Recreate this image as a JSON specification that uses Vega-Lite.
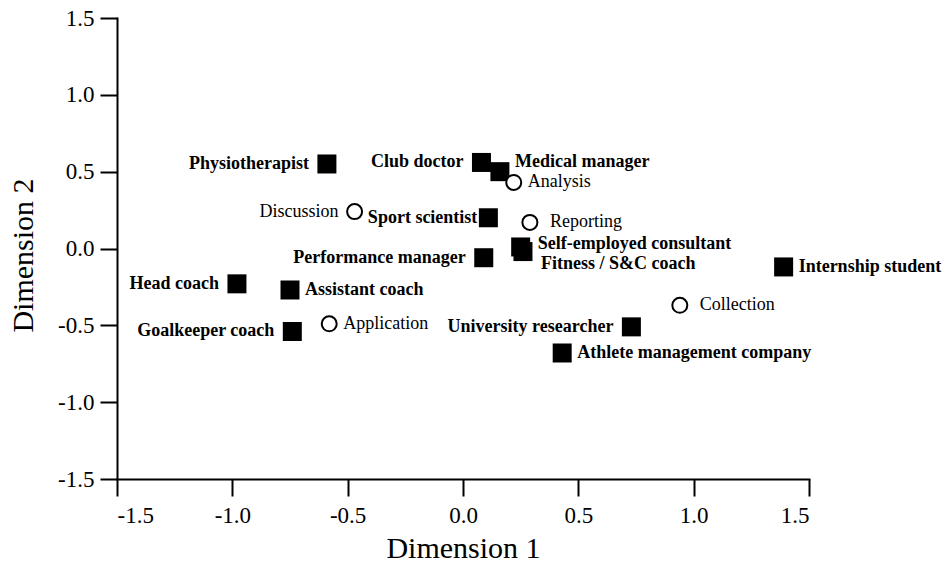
{
  "$schema": "https://vega.github.io/schema/vega-lite/v6.json",
  "width": 692,
  "height": 461,
  "autosize": {"type": "none"},
  "padding": {"left": 117, "top": 18, "right": 141, "bottom": 95},
  "config": {
    "view": {"stroke": null},
    "font": "Liberation Serif",
    "axis": {
      "grid": false,
      "domainColor": "black",
      "domainWidth": 2,
      "domainCap": "square",
      "tickColor": "black",
      "tickWidth": 2,
      "tickSize": 17,
      "labelFont": "Liberation Serif",
      "labelFontSize": 23,
      "labelColor": "black",
      "titleFont": "Liberation Serif",
      "titleFontSize": 30,
      "titleFontWeight": "normal",
      "titleColor": "black"
    }
  },
  "data": {
    "values": [
      {"name": "Physiotherapist", "d1": -0.59, "d2": 0.55, "kind": "role"},
      {"name": "Club doctor", "d1": 0.08, "d2": 0.56, "kind": "role"},
      {"name": "Medical manager", "d1": 0.16, "d2": 0.5, "kind": "role"},
      {"name": "Sport scientist", "d1": 0.11, "d2": 0.2, "kind": "role"},
      {"name": "Self-employed consultant", "d1": 0.25, "d2": 0.01, "kind": "role"},
      {"name": "Fitness / S&C coach", "d1": 0.26, "d2": -0.02, "kind": "role"},
      {"name": "Performance manager", "d1": 0.09, "d2": -0.06, "kind": "role"},
      {"name": "Internship student", "d1": 1.39, "d2": -0.12, "kind": "role"},
      {"name": "Head coach", "d1": -0.98, "d2": -0.23, "kind": "role"},
      {"name": "Assistant coach", "d1": -0.75, "d2": -0.27, "kind": "role"},
      {"name": "Goalkeeper coach", "d1": -0.74, "d2": -0.54, "kind": "role"},
      {"name": "University researcher", "d1": 0.73, "d2": -0.51, "kind": "role"},
      {"name": "Athlete management company", "d1": 0.43, "d2": -0.68, "kind": "role"},
      {"name": "Analysis", "d1": 0.22, "d2": 0.43, "kind": "stage"},
      {"name": "Discussion", "d1": -0.47, "d2": 0.24, "kind": "stage"},
      {"name": "Reporting", "d1": 0.29, "d2": 0.17, "kind": "stage"},
      {"name": "Application", "d1": -0.58, "d2": -0.49, "kind": "stage"},
      {"name": "Collection", "d1": 0.94, "d2": -0.37, "kind": "stage"}
    ]
  },
  "encoding": {
    "x": {
      "field": "d1",
      "type": "quantitative",
      "scale": {"domain": [-1.5, 1.5], "nice": false, "zero": false},
      "axis": {
        "values": [-1.5, -1, -0.5, 0, 0.5, 1, 1.5],
        "labelExpr": "replace(format(datum.value, '.1f'), '\u2212', '-')",
        "labelPadding": 8,
        "title": "Dimension 1",
        "titleY": 69,
        "titleBaseline": "middle"
      }
    },
    "y": {
      "field": "d2",
      "type": "quantitative",
      "scale": {"domain": [-1.5, 1.5], "nice": false, "zero": false},
      "axis": {
        "values": [-1.5, -1, -0.5, 0, 0.5, 1, 1.5],
        "labelExpr": "replace(format(datum.value, '.1f'), '\u2212', '-')",
        "labelPadding": 6,
        "title": "Dimension 2",
        "titleX": -94,
        "titleY": 237,
        "titleAngle": -90,
        "titleAlign": "center",
        "titleBaseline": "middle"
      }
    }
  },
  "layer": [
    {
      "transform": [{"filter": "datum.kind === 'role'"}],
      "mark": {"type": "point", "shape": "square", "filled": true, "color": "black", "size": 361, "opacity": 1}
    },
    {
      "transform": [{"filter": "datum.kind === 'stage'"}],
      "mark": {"type": "point", "shape": "circle", "filled": true, "fill": "white", "stroke": "black", "strokeWidth": 2, "size": 225, "opacity": 1}
    },
    {
      "transform": [{"filter": {"field": "name", "oneOf": ["Physiotherapist", "Club doctor", "Performance manager", "Head coach", "Goalkeeper coach", "University researcher"]}}],
      "mark": {"type": "text", "align": "right", "baseline": "middle", "dx": -18, "fontSize": 18, "fontWeight": "bold", "color": "black"},
      "encoding": {"text": {"field": "name"}}
    },
    {
      "transform": [{"filter": {"field": "name", "oneOf": ["Sport scientist"]}}],
      "mark": {"type": "text", "align": "right", "baseline": "middle", "dx": -11, "fontSize": 18, "fontWeight": "bold", "color": "black"},
      "encoding": {"text": {"field": "name"}}
    },
    {
      "transform": [{"filter": {"field": "name", "oneOf": ["Assistant coach", "Athlete management company", "Internship student"]}}],
      "mark": {"type": "text", "align": "left", "baseline": "middle", "dx": 15, "fontSize": 18, "fontWeight": "bold", "color": "black"},
      "encoding": {"text": {"field": "name"}}
    },
    {
      "transform": [{"filter": {"field": "name", "oneOf": ["Medical manager"]}}],
      "mark": {"type": "text", "align": "left", "baseline": "middle", "dx": 15, "dy": -10, "fontSize": 18, "fontWeight": "bold", "color": "black"},
      "encoding": {"text": {"field": "name"}}
    },
    {
      "transform": [{"filter": {"field": "name", "oneOf": ["Self-employed consultant"]}}],
      "mark": {"type": "text", "align": "left", "baseline": "middle", "dx": 17, "dy": -3, "fontSize": 18, "fontWeight": "bold", "color": "black"},
      "encoding": {"text": {"field": "name"}}
    },
    {
      "transform": [{"filter": {"field": "name", "oneOf": ["Fitness / S&C coach"]}}],
      "mark": {"type": "text", "align": "left", "baseline": "middle", "dx": 18, "dy": 12, "fontSize": 18, "fontWeight": "bold", "color": "black"},
      "encoding": {"text": {"field": "name"}}
    },
    {
      "transform": [{"filter": {"field": "name", "oneOf": ["Analysis", "Application"]}}],
      "mark": {"type": "text", "align": "left", "baseline": "middle", "dx": 14, "fontSize": 18, "color": "black"},
      "encoding": {"text": {"field": "name"}}
    },
    {
      "transform": [{"filter": {"field": "name", "oneOf": ["Reporting", "Collection"]}}],
      "mark": {"type": "text", "align": "left", "baseline": "middle", "dx": 20, "fontSize": 18, "color": "black"},
      "encoding": {"text": {"field": "name"}}
    },
    {
      "transform": [{"filter": {"field": "name", "oneOf": ["Discussion"]}}],
      "mark": {"type": "text", "align": "right", "baseline": "middle", "dx": -16, "fontSize": 18, "color": "black"},
      "encoding": {"text": {"field": "name"}}
    }
  ]
}
